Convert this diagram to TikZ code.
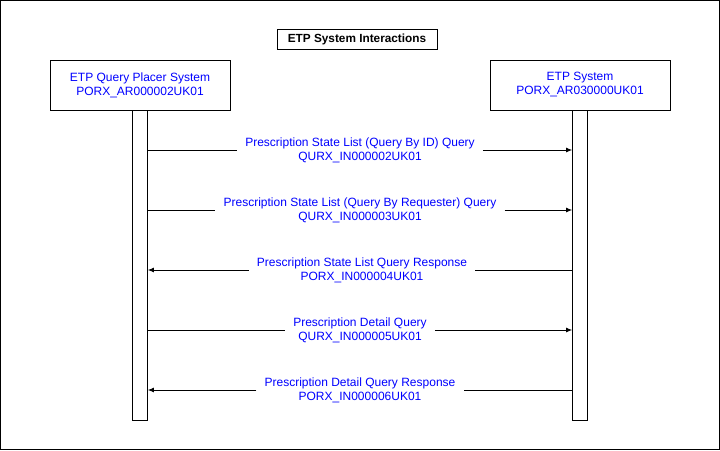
\documentclass[tikz,border=0pt]{standalone}
\usepackage{fontspec}
\setmainfont{Liberation Sans}
\usetikzlibrary{arrows.meta}
\definecolor{msgblue}{RGB}{0,0,255}
\tikzset{
  sysbox/.style={draw, line width=0.8pt, minimum width=180pt, minimum height=50pt, align=center, text=msgblue, font=\fontsize{12}{14}\selectfont},
  lifeline/.style={draw, line width=0.8pt, minimum width=15pt, minimum height=310pt, inner sep=0pt},
  msglabel/.style={align=center, text=msgblue, inner xsep=8pt, inner ysep=0pt, font=\fontsize{12}{14}\selectfont},
  msg/.style={line width=0.8pt, -{Latex[length=6pt,width=5pt]}},
  plain/.style={line width=0.8pt}
}
\begin{document}
\begin{tikzpicture}[x=1pt,y=-1pt]
			%%%%% START %%%%%
			\useasboundingbox (0,0) rectangle (720,450);
			\draw[plain] (0.5,0.5) rectangle (719.5,449.5);
			
			\node[draw, line width=0.8pt, minimum width=160pt, minimum height=20pt, font=\fontsize{11.8}{14}\selectfont\bfseries] (title) at (357,39) {ETP System Interactions};
			
			\node[sysbox] (qbox) at (140,85) {ETP Query Placer System\\PORX\_AR000002UK01};
			\node[sysbox] (sbox) at (580,85) {ETP System\\PORX\_AR030000UK01};
			
			\node[lifeline, anchor=north] (ql) at (qbox.south) {};
			\node[lifeline, anchor=north] (sl) at (sbox.south) {};
			
			\node[msglabel] (m1) at (360,150) {Prescription State List (Query By ID) Query\\QURX\_IN000002UK01};
			\node[msglabel] (m2) at (360,210) {Prescription State List (Query By Requester) Query\\QURX\_IN000003UK01};
			\node[msglabel] (m3) at (362,270) {Prescription State List Query Response\\PORX\_IN000004UK01};
			\node[msglabel] (m4) at (360,330) {Prescription Detail Query\\QURX\_IN000005UK01};
			\node[msglabel] (m5) at (360,390) {Prescription Detail Query Response\\PORX\_IN000006UK01};
			
			% queries, left to right
			\foreach \m in {m1,m2,m4}{
				\draw[plain] (ql.east |- \m) -- (\m.west);
				\draw[msg] (\m.east) -- (sl.west |- \m);
			}
			% responses, right to left
			\foreach \m in {m3,m5}{
				\draw[plain] (sl.west |- \m) -- (\m.east);
				\draw[msg] (\m.west) -- (ql.east |- \m);
			}
			%%%%% END %%%%%
\end{tikzpicture}
\end{document}
